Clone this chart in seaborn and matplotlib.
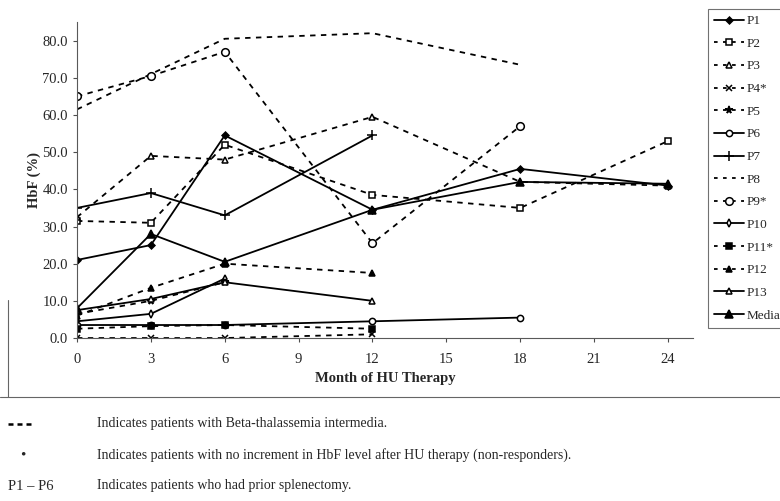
import matplotlib
matplotlib.use("Agg")
import matplotlib.pyplot as plt
from matplotlib.lines import Line2D
import seaborn as sns
import pandas as pd

# Months of HU therapy and HbF (%) per patient
months = [0, 3, 6, 12, 18, 24]

p1 = [21.0, 25.0, 54.5, 34.5, 45.5, 41.0]
p2 = [31.5, 31.0, 52.0, 38.5, 35.0, 53.0]
p3 = [32.5, 49.0, 48.0, 59.5, 42.0, 41.0]
p4 = [0.0, 0.0, 0.0, 1.0]
p5 = [6.5, 10.0, 15.0]
p6 = [3.5, 3.5, 3.5, 4.5, 5.5]
p7 = [35.0, 39.0, 33.0, 54.5]
p8 = [61.5, 71.0, 80.5, 82.0, 73.5]
p9 = [65.0, 70.5, 77.0, 25.5, 57.0]
p10 = [4.5, 6.5, 16.0]
p11 = [2.5, 3.2, 3.5, 2.5]
p12 = [6.0, 13.5, 20.0, 17.5]
p13 = [7.5, 10.5, 15.0, 10.0]
median = [8.0, 28.0, 20.5, 34.5, 42.0, 41.5]

names = ["P1", "P2", "P3", "P4*", "P5", "P6", "P7", "P8", "P9*", "P10", "P11*", "P12", "P13", "Median"]
values = [p1, p2, p3, p4, p5, p6, p7, p8, p9, p10, p11, p12, p13, median]

# marker, filled?, dashed?, marker size
styles = {
    "P1": ("D", True, False, 3.5),
    "P2": ("s", False, True, 4.5),
    "P3": ("^", False, True, 4.5),
    "P4*": ("x", True, True, 4.5),
    "P5": ("*", True, True, 5.5),
    "P6": ("o", False, False, 4.5),
    "P7": ("+", True, False, 6.5),
    "P8": (None, True, True, 0),
    "P9*": ("o", False, True, 5.5),
    "P10": ("d", False, False, 4),
    "P11*": ("s", True, True, 4.5),
    "P12": ("^", True, True, 4.5),
    "P13": ("^", False, False, 4.5),
    "Median": ("^", True, False, 5.5),
}

sns.set_style("white")
plt.rcParams["font.family"] = ["Liberation Serif", "DejaVu Serif"]

fig = plt.figure(figsize=(7.8, 5.01), dpi=100)
ax = fig.add_axes([0.0987, 0.3253, 0.7893, 0.6307])

handles = []
for name, vals in zip(names, values):
    df = pd.DataFrame({"month": months[:len(vals)], "hbf": vals})
    marker, filled, dashed, ms = styles[name]
    kw = dict(color="black", linewidth=1.3, markersize=ms,
              markeredgecolor="black", markeredgewidth=1.1,
              markerfacecolor="black" if filled else "white")
    if marker:
        kw["marker"] = marker
    sns.lineplot(data=df, x="month", y="hbf", ax=ax, estimator=None, sort=False,
                 linestyle=(0, (3, 3)) if dashed else "-", **kw)
    handles.append(Line2D([], [], label=name, linestyle=(0, (2, 3)) if dashed else "-", **kw))

ax.set_xlim(0, 25)
ax.set_ylim(0, 85)
ax.set_xticks(range(0, 25, 3))
ax.set_yticks(range(0, 81, 10))
ax.set_yticklabels([f"{v:.1f}" for v in range(0, 81, 10)])
ax.tick_params(axis="both", labelsize=10.5, length=3, direction="out", color="0.3")
ax.tick_params(axis="x", pad=8)
ax.xaxis.set_ticks_position("bottom")
ax.yaxis.set_ticks_position("left")
for side in ["top", "right"]:
    ax.spines[side].set_visible(False)
for side in ["left", "bottom"]:
    ax.spines[side].set_color("0.35")
    ax.spines[side].set_linewidth(0.8)
ax.set_xlabel("Month of HU Therapy", fontsize=10.5, fontweight="bold", labelpad=4)
ax.set_ylabel("HbF (%)", fontsize=10.5, fontweight="bold", labelpad=1)

leg = fig.legend(handles=handles, loc="upper left", bbox_to_anchor=(708 / 780, 1 - 9 / 501),
                 fontsize=9.5, numpoints=1, handlelength=2.3, handletextpad=0.15,
                 labelspacing=0.79, frameon=True, fancybox=False, borderpad=0.45,
                 borderaxespad=0)
leg.get_frame().set_edgecolor("0.3")
leg.get_frame().set_linewidth(0.8)

# frame of the chart area and footnotes
fig.add_artist(Line2D([0, 1], [1 - 397 / 501] * 2, color="0.4", linewidth=0.8))
fig.add_artist(Line2D([8 / 780] * 2, [1 - 397 / 501, 1 - 300 / 501], color="0.4", linewidth=0.8))

fig.add_artist(Line2D([8 / 780, 31 / 780], [1 - 424 / 501] * 2, color="black",
                      linewidth=1.8, linestyle=(0, (2, 1.6))))
fig.text(23 / 780, 1 - 455 / 501, "\u2022", fontsize=11, ha="center", va="center")
fig.text(8 / 780, 1 - 486 / 501, "P1 \u2013 P6", fontsize=10.5, va="center")

notes = [
    "Indicates patients with Beta-thalassemia intermedia.",
    "Indicates patients with no increment in HbF level after HU therapy (non-responders).",
    "Indicates patients who had prior splenectomy.",
]
for yy, note in zip([424, 455, 486], notes):
    fig.text(97 / 780, 1 - yy / 501, note, fontsize=10, va="center")

fig.savefig("out.png", dpi=100)
